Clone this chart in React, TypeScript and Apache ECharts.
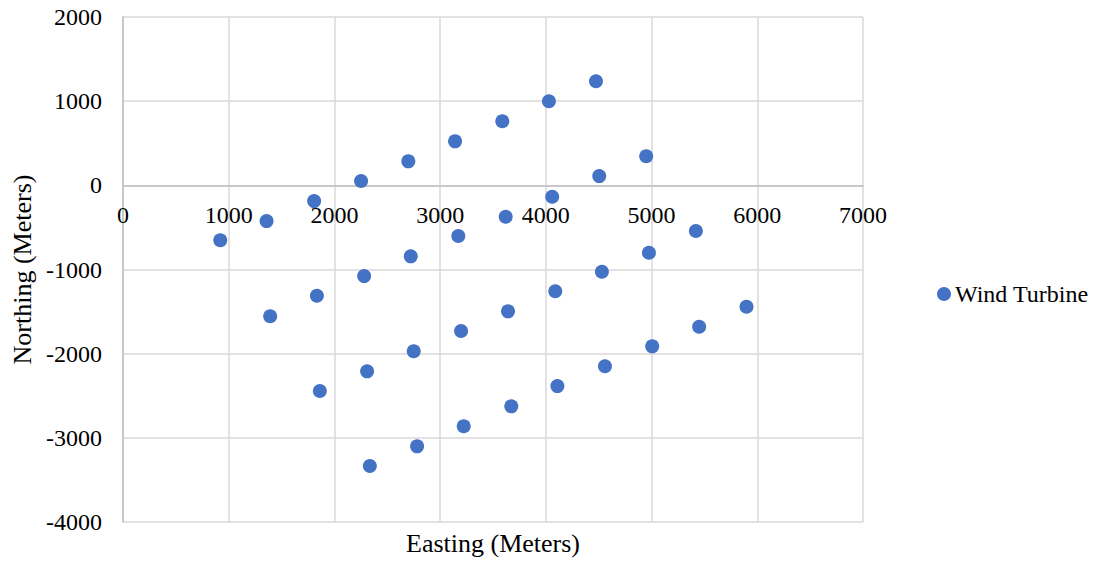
import React, { useEffect, useRef } from "react";
import * as echarts from "echarts";

const seriesName = "Wind Turbine";
const xTitle = "Easting (Meters)";
const yTitle = "Northing (Meters)";

const easting: number[] = [
  920, 1358, 1808, 2252, 2699, 3141, 3588, 4029, 4474,
  1392, 1834, 2281, 2722, 3172, 3620, 4060, 4505, 4949,
  1862, 2309, 2750, 3198, 3642, 4089, 4530, 4975, 5419,
  2335, 2782, 3223, 3673, 4109, 4559, 5006, 5450, 5898,
];
const northing: number[] = [
  -653, -425, -187, 51, 285, 523, 762, 999, 1236,
  -1556, -1312, -1078, -844, -602, -373, -135, 110, 345,
  -2444, -2210, -1972, -1731, -1497, -1259, -1027, -801, -543,
  -3335, -3101, -2863, -2626, -2385, -2150, -1913, -1680, -1442,
];

const FONT = "'Liberation Serif', 'Times New Roman', serif";

const GRID_TOP = 17;
const GRID_BOTTOM = 39;
const CHART_H = 561;
const Y_MIN = -4000;
const Y_MAX = 2000;

export default function App() {
  const ref = useRef<HTMLDivElement>(null);
  useEffect(() => {
    if (!ref.current) return;
    const chart = echarts.init(ref.current, undefined, { renderer: "svg" });
    const data = easting.map((x, i) => [x, northing[i]]);
    const plotH = CHART_H - GRID_TOP - GRID_BOTTOM;
    // distance from bottom of plot to the zero line
    const zeroOffset = (plotH * (0 - Y_MIN)) / (Y_MAX - Y_MIN);
    chart.setOption({
      animation: false,
      backgroundColor: "#ffffff",
      textStyle: { fontFamily: FONT, color: "#000" },
      grid: { left: 123, right: 235, top: GRID_TOP, bottom: GRID_BOTTOM, containLabel: false, outerBoundsMode: "none" },
      legend: {
        orient: "vertical",
        left: 932,
        top: 277,
        icon: "circle",
        itemWidth: 14,
        itemHeight: 14,
        itemGap: 6,
        textStyle: { fontFamily: FONT, fontSize: 24, color: "#000", padding: [0, 0, 0, -1] },
        data: [seriesName],
      },
      xAxis: {
        type: "value",
        position: "bottom",
        offset: -zeroOffset,
        min: 0,
        max: 7000,
        interval: 1000,
        name: xTitle,
        nameLocation: "middle",
        nameGap: zeroOffset + 8,
        nameTextStyle: { fontFamily: FONT, fontSize: 26, color: "#000" },
        axisLine: { show: true, onZero: false, lineStyle: { color: "#bfbfbf", width: 1.5 } },
        axisTick: { show: false },
        axisLabel: { fontFamily: FONT, fontSize: 24, color: "#000", margin: 18, formatter: (v: number) => String(v) },
        splitLine: { show: true, lineStyle: { color: "#d9d9d9", width: 1.5 } },
      },
      yAxis: {
        type: "value",
        min: Y_MIN,
        max: Y_MAX,
        interval: 1000,
        name: yTitle,
        nameLocation: "middle",
        nameGap: 86,
        nameRotate: 90,
        nameTextStyle: { fontFamily: FONT, fontSize: 26, color: "#000" },
        axisLine: { show: true, onZero: false, lineStyle: { color: "#bfbfbf", width: 1.5 } },
        axisTick: { show: false },
        axisLabel: { fontFamily: FONT, fontSize: 24, color: "#000", margin: 21, formatter: (v: number) => String(v) },
        splitLine: { show: true, lineStyle: { color: "#d9d9d9", width: 1.5 } },
      },
      series: [
        {
          name: seriesName,
          type: "scatter",
          symbol: "circle",
          symbolSize: 14,
          itemStyle: { color: "#4472C4", opacity: 1 },
          data,
        },
      ],
    });
    return () => chart.dispose();
  }, []);
  return <div ref={ref} style={{ width: 1098, height: 561, position: "absolute", left: 0, top: 0 }} />;
}
